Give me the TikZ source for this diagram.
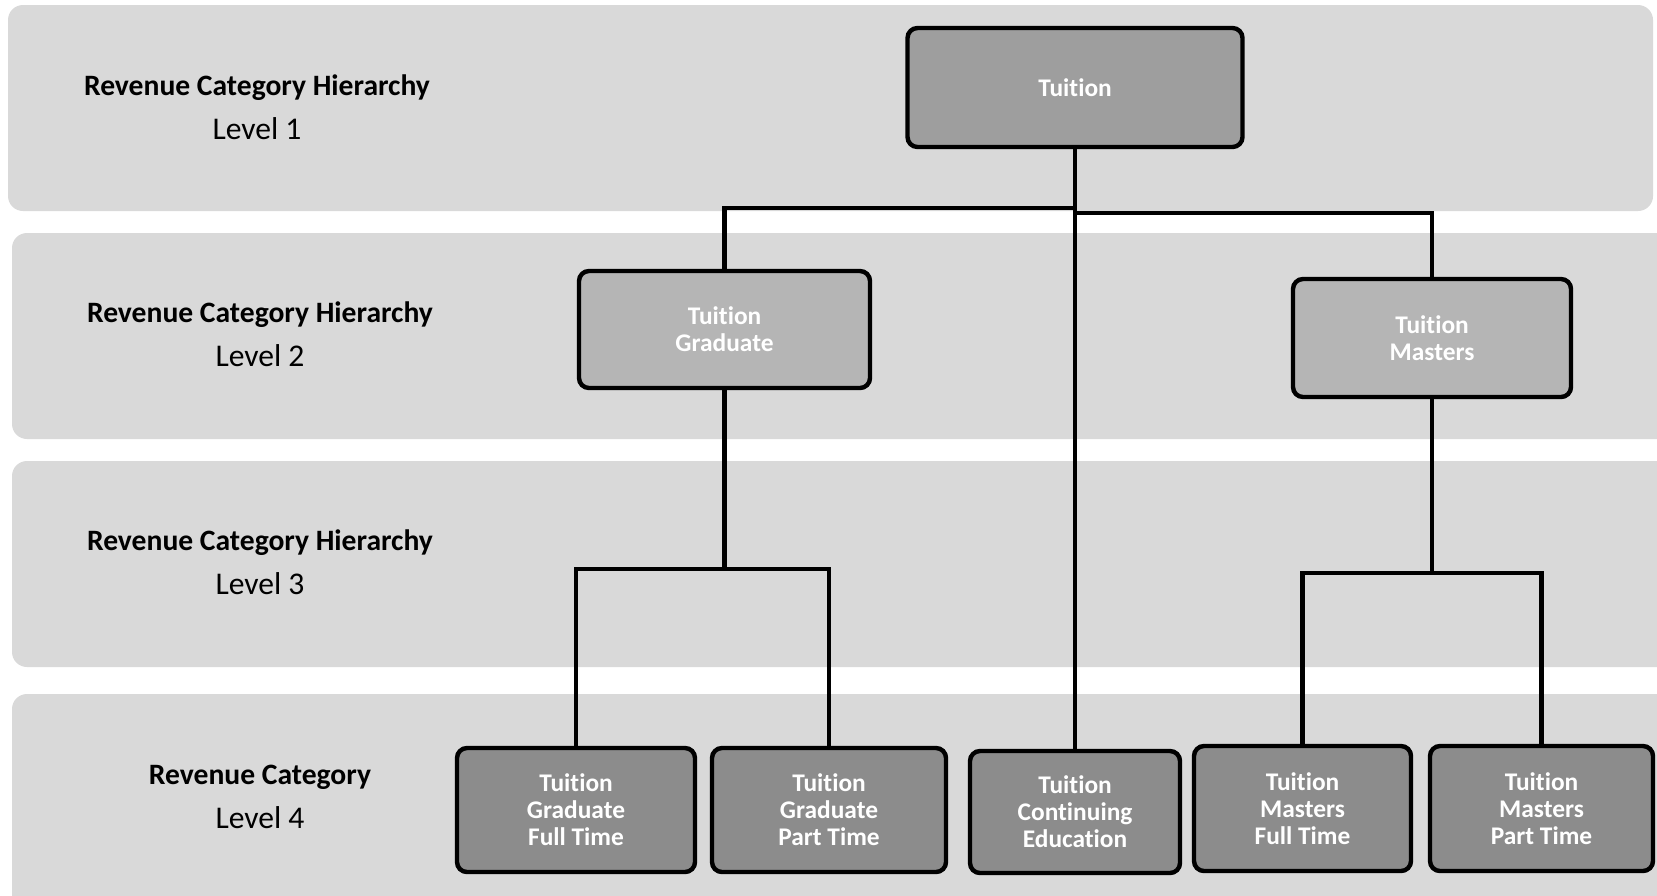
\documentclass[tikz,border=0pt]{standalone}
\usepackage{fontspec}
\setmainfont{Carlito}[Ligatures=NoCommon]
\usetikzlibrary{positioning}

\definecolor{bandgray}{RGB}{217,217,217}
\definecolor{topgray}{RGB}{158,158,158}
\definecolor{midgray}{RGB}{181,181,181}
\definecolor{leafgray}{RGB}{140,140,140}

\tikzset{
  band/.style={fill=bandgray, draw=none, rounded corners=7.5pt},
  catbox/.style={draw=black, line width=2.2pt, rounded corners=5pt, text=white,
    font=\bfseries\fontsize{12.7}{13.5}\selectfont, align=center, inner sep=0pt},
  link/.style={line width=2.3pt},
  levellabel/.style={align=center, font=\fontsize{15.8}{17}\selectfont}
}
\newcommand{\levelhead}[1]{{\bfseries\fontsize{14.8}{17}\selectfont #1}}

\begin{document}
\begin{tikzpicture}[x=0.5pt,y=0.5pt,yscale=-1,xscale=1]
\useasboundingbox (0,0) rectangle (1657,895);
\clip (0,0) rectangle (1657,895);

%Shape: Bands
\fill[band] (8,5) rectangle (1653,211);
\fill[band] (12,233) rectangle (1675,439);
\fill[band] (12,461) rectangle (1675,667);
\fill[band] (12,694) rectangle (1675,915);

% Text Node
\node[levellabel] (lvl1) at (257,107) {\levelhead{Revenue Category Hierarchy}\\[5pt]Level 1};
% Text Node
\node[levellabel] (lvl2) at (260,334) {\levelhead{Revenue Category Hierarchy}\\[5pt]Level 2};
% Text Node
\node[levellabel] (lvl3) at (260,562) {\levelhead{Revenue Category Hierarchy}\\[5pt]Level 3};
% Text Node
\node[levellabel] (lvl4) at (260,797) {\levelhead{Revenue Category}\\[5pt]Level 4};

%Shape: Boxes
\node[catbox, fill=topgray, minimum width=167.5pt, minimum height=59.5pt] (tuition) at (1075,87.5) {Tuition};
\node[catbox, fill=midgray, minimum width=145.5pt, minimum height=58.5pt] (grad) at (724.5,329.5) {Tuition\\Graduate};
\node[catbox, fill=midgray, minimum width=139pt, minimum height=59pt] (masters) at (1432,338) {Tuition\\Masters};
\node[catbox, fill=leafgray, minimum width=119pt, minimum height=62pt] (gradft) at (576,810) {Tuition\\Graduate\\Full Time};
\node[catbox, fill=leafgray, minimum width=117pt, minimum height=62pt] (gradpt) at (829,810) {Tuition\\Graduate\\Part Time};
\node[catbox, fill=leafgray, minimum width=105pt, minimum height=61pt] (contedu) at (1075,812) {Tuition\\Continuing\\Education};
\node[catbox, fill=leafgray, minimum width=108.5pt, minimum height=62.5pt] (mastft) at (1302.5,808.5) {Tuition\\Masters\\Full Time};
\node[catbox, fill=leafgray, minimum width=111.5pt, minimum height=62.5pt] (mastpt) at (1541.5,808.5) {Tuition\\Masters\\Part Time};

%Straight Lines
\coordinate (splitl) at (1075,208);
\coordinate (splitr) at (1075,213);
\coordinate (gradjoin) at (724.5,569);
\coordinate (mastjoin) at (1432,573);

\draw[link] (tuition.south) -- (contedu.north);
\draw[link] (splitl) -| (grad.north);
\draw[link] (splitr) -| (masters.north);
\draw[link] (grad.south) -- (gradjoin);
\draw[link] (gradft.north) |- (gradjoin) -| (gradpt.north);
\draw[link] (masters.south) -- (mastjoin);
\draw[link] (mastft.north) |- (mastjoin) -| (mastpt.north);

\end{tikzpicture}
\end{document}
